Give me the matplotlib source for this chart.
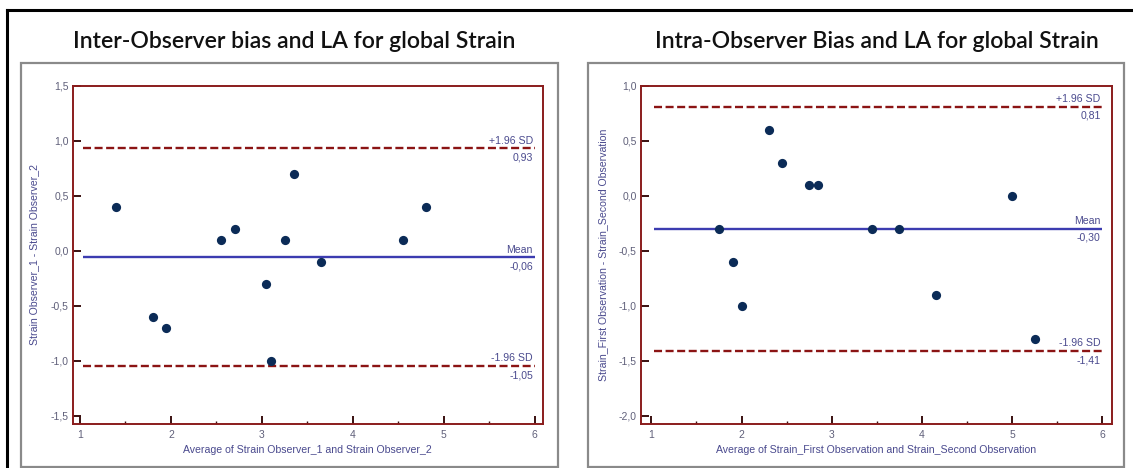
import matplotlib
matplotlib.use("Agg")
import matplotlib.pyplot as plt
import matplotlib.ticker as mticker
from matplotlib.patches import Rectangle
from matplotlib.lines import Line2D

# ── Data ─────────────────────────────────────────────────────────────
inter_avg = [1.40, 1.80, 1.95, 2.55, 2.70, 3.05, 3.10, 3.25, 3.35, 3.65, 4.55, 4.80]
inter_diff = [0.4, -0.6, -0.7, 0.1, 0.2, -0.3, -1.0, 0.1, 0.7, -0.1, 0.1, 0.4]
inter_stats = {"mean": -0.06, "upper": 0.93, "lower": -1.05}

intra_avg = [1.75, 1.90, 2.00, 2.30, 2.45, 2.75, 2.85, 3.45, 3.75, 4.15, 5.00, 5.25]
intra_diff = [-0.3, -0.6, -1.0, 0.6, 0.3, 0.1, 0.1, -0.3, -0.3, -0.9, 0.0, -1.3]
intra_stats = {"mean": -0.30, "upper": 0.81, "lower": -1.41}

titles = ["Inter-Observer bias and LA for global Strain",
          "Intra-Observer Bias and LA for global Strain"]
xlabels = ["Average of Strain Observer_1 and Strain Observer_2",
           "Average of Strain_First Observation and Strain_Second Observation"]
ylabels = ["Strain Observer_1 - Strain Observer_2",
           "Strain_First Observation - Strain_Second Observation"]

# ── Style ────────────────────────────────────────────────────────────
SPINE = "#8a1c1c"
DASH = "#8b1414"
MEAN_C = "#3c3cb0"
DOT = "#0b2b57"
TXT = "#4a4a8e"
TICK_TXT = "#60607a"
W, H = 1133, 468

plt.rcParams.update({
    "font.family": ["Liberation Sans", "DejaVu Sans"],
})


def comma(v, _, nd=1):
    return f"{v:.{nd}f}".replace(".", ",")


def bland_altman(ax, x, y, stats, xlim, ylim, yticks, xlabel, ylabel):
    ax.scatter(x, y, s=44, color=DOT, zorder=4, linewidths=0)
    for key in ["upper", "lower"]:
        ax.hlines(stats[key], 1.03, 6.0, colors=DASH, linestyles=(0, (3.4, 1.5)),
                  linewidth=1.7, zorder=3)
    ax.hlines(stats["mean"], 1.03, 6.0, colors=MEAN_C, linewidth=1.7, zorder=3)

    kw = dict(ha="right", fontsize=7.6, color=TXT, zorder=5)
    for key, lab in [("upper", "+1.96 SD"), ("mean", "Mean"), ("lower", "-1.96 SD")]:
        v = stats[key]
        ax.annotate(lab, (5.98, v), xytext=(0, 2), textcoords="offset points",
                    va="bottom", **kw)
        ax.annotate(comma(v, None, 2), (5.98, v), xytext=(0, -3),
                    textcoords="offset points", va="top", **kw)

    ax.set_xlim(*xlim)
    ax.set_ylim(*ylim)
    ax.set_xticks([1, 2, 3, 4, 5, 6])
    ax.set_xticks([1.5, 2.5, 3.5, 4.5, 5.5], minor=True)
    ax.set_yticks(yticks)
    ax.yaxis.set_major_formatter(mticker.FuncFormatter(comma))
    ax.tick_params(which="major", direction="in", length=6, width=1.4,
                   color="#3a1010", labelsize=7.5, labelcolor=TICK_TXT, pad=3)
    ax.tick_params(which="minor", axis="x", direction="in", length=2.5,
                   width=1.0, color="#3a1010")
    ax.tick_params(axis="x", pad=4)
    for s in ax.spines.values():
        s.set_color(SPINE)
        s.set_linewidth(1.4)
    ax.set_xlabel(xlabel, fontsize=7.6, color=TXT, labelpad=4)
    ax.set_ylabel(ylabel, fontsize=7.6, color=TXT, labelpad=8)


fig = plt.figure(figsize=(W / 100, H / 100), dpi=100)
bottom = 1 - 424 / H
height = (424 - 85.7) / H

ax1 = fig.add_axes([72.7 / W, bottom, (543 - 72.7) / W, height])
ax2 = fig.add_axes([641 / W, bottom, (1111.5 - 641) / W, height])

bland_altman(ax1, inter_avg, inter_diff, inter_stats, (0.92, 6.09), (-1.575, 1.5),
             [-1.5, -1.0, -0.5, 0.0, 0.5, 1.0, 1.5], xlabels[0], ylabels[0])
bland_altman(ax2, intra_avg, intra_diff, intra_stats, (0.885, 6.10), (-2.075, 1.0),
             [-2.0, -1.5, -1.0, -0.5, 0.0, 0.5, 1.0], xlabels[1], ylabels[1])

# ── Frames and titles ────────────────────────────────────────────────
for x0, x1 in [(21, 558), (588, 1124)]:
    fig.add_artist(Rectangle((x0 / W, 1 - 467 / H), (x1 - x0) / W, (467 - 63) / H,
                             transform=fig.transFigure, fill=False,
                             edgecolor="#8a8a8a", linewidth=1.6))
fig.add_artist(Line2D([7 / W, 1], [1 - 10 / H] * 2, color="black", linewidth=2.2,
                      transform=fig.transFigure))
fig.add_artist(Line2D([7 / W] * 2, [0, 1 - 10 / H], color="black", linewidth=2.2,
                      transform=fig.transFigure))

for cx, t in zip([294, 877], titles):
    fig.text(cx / W, 1 - 42 / H, t, ha="center", va="center", fontsize=16.6,
             family=["Lato", "DejaVu Sans"], weight="semibold", color="#111111")

fig.savefig("out.png", dpi=100)
